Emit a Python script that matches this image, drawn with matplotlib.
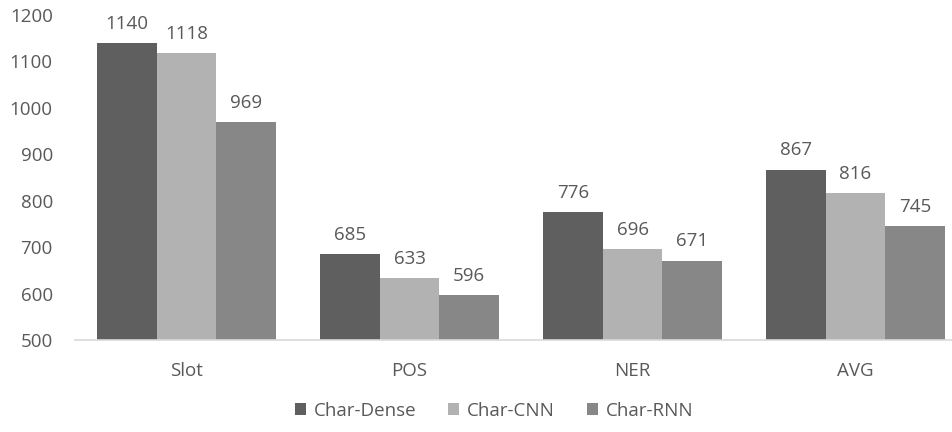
import numpy as np
import matplotlib.pyplot as plt

# Chart data
categories = ["Slot", "POS", "NER", "AVG"]
series_names = ["Char-Dense", "Char-CNN", "Char-RNN"]
char_dense = [1140, 685, 776, 867]
char_cnn = [1118, 633, 696, 816]
char_rnn = [969, 596, 671, 745]

colors = ["#5f5f5f", "#b2b2b2", "#878787"]
text_color = "#595959"

plt.rcParams['font.family'] = ['Open Sans', 'DejaVu Sans']

fig = plt.figure(figsize=(9.53, 4.32), dpi=100)
ax = fig.add_axes([75 / 953, 1 - 340 / 432, 1 - 75 / 953, (340 - 15) / 432])

x = np.arange(len(categories))
width = 0.267
values = [char_dense, char_cnn, char_rnn]

for i, (name, vals) in enumerate(zip(series_names, values)):
    bars = ax.bar(x + (i - 1) * width, vals, width, color=colors[i], label=name,
                  edgecolor="none")
    for b, v in zip(bars, vals):
        ax.text(b.get_x() + b.get_width() / 2, v + 22, str(v), ha="center",
                va="bottom", fontsize=13.5, color=text_color)

# Axis settings
ax.set_ylim(500, 1200)
ax.set_xlim(-0.5, 3.5 - 14 / 223)
ax.set_yticks(range(500, 1201, 100))
ax.set_xticks(x)
ax.set_xticklabels(categories)
ax.tick_params(axis="both", length=0, labelsize=13.5, colors=text_color)
ax.tick_params(axis="x", pad=16)
ax.tick_params(axis="y", pad=16)
for s in ["top", "right", "left"]:
    ax.spines[s].set_visible(False)
ax.spines["bottom"].set_color("#d9d9d9")
ax.spines["bottom"].set_linewidth(1.2)

leg = fig.legend(loc="center", bbox_to_anchor=(494 / 953, 1 - 411 / 432), ncol=3,
                 frameon=False, fontsize=13.5, handlelength=0.6, handleheight=0.6,
                 handletextpad=0.4, columnspacing=1.7)
for t in leg.get_texts():
    t.set_color(text_color)

plt.savefig("out.png", dpi=100)
